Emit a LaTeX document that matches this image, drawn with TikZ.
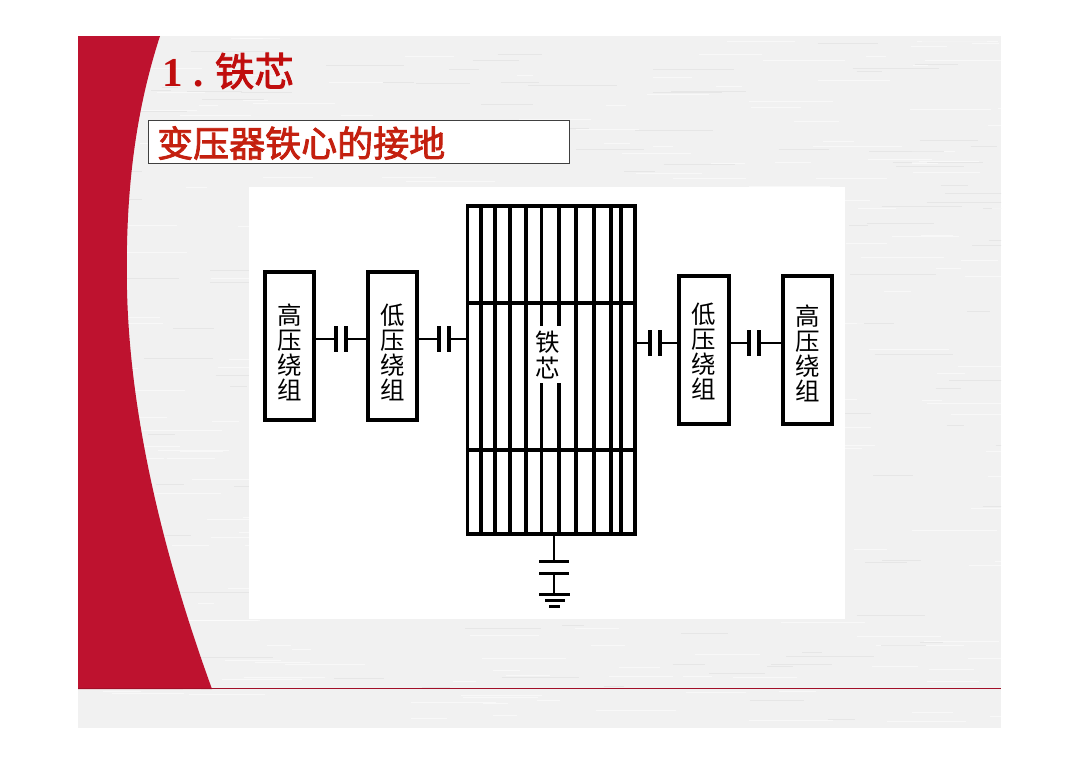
\documentclass[tikz,border=0pt]{standalone}
\usepackage{fontspec}
\newfontfamily\cjk{Noto Sans CJK SC}
\newfontfamily\cjkb[FakeBold=2.2]{Noto Sans CJK SC}
\setmainfont{Liberation Serif}
\definecolor{crim}{HTML}{BE122F}
\definecolor{titlered}{HTML}{C00D0D}
\definecolor{subred}{HTML}{C4200F}
\definecolor{bgg}{HTML}{F1F1F1}
\tikzset{
 wire/.style={line width=2.2pt,black},
 grid line/.style={line width=3.2pt,black},
 coil/.style={draw=black,line width=4pt,fill=white,minimum width=49.5pt,minimum height=148pt,inner sep=0pt},
 coiltext/.style={font=\cjk\fontsize{24.5}{25}\selectfont,align=center,black,inner sep=0pt},
 plate/.style={fill=black,inner sep=0pt,minimum width=4pt,minimum height=25.5pt},
 gplate/.style={fill=black,inner sep=0pt,minimum height=3.4pt},
 streak/.style={line width=1pt,opacity=.55},
}
\begin{document}
\begin{tikzpicture}[x=1pt,y=-1pt]
\useasboundingbox (0,0) rectangle (1080,764);
\fill[white] (0,0) rectangle (1080,764);
\fill[bgg] (78,36) rectangle (1001,728);
% paper texture
\begin{scope}
\clip (78,36) rectangle (1001,728);
\pgfmathsetseed{4242}
\foreach \i in {1,...,420}{
  \pgfmathsetmacro{\sx}{80+rnd*920}
  \pgfmathsetmacro{\sy}{38+rnd*688}
  \pgfmathsetmacro{\sl}{15+rnd*75}
  \pgfmathtruncatemacro{\tone}{mod(\i,3)}
  \ifnum\tone=0
    \draw[streak,color=black!13] (\sx,\sy) -- (\sx+\sl,\sy);
  \else
    \draw[streak,color=white] (\sx,\sy) -- (\sx+\sl,\sy);
  \fi
}
\end{scope}
\fill[white] (249,187) rectangle (845,619);
% red band
\fill[crim] (78,36) -- (160,36) .. controls (136,110) and (125,190) .. (127,290) .. controls (130,420) and (165,560) .. (212,689) -- (78,689) -- cycle;
\draw[crim!85!black,line width=.9pt] (78,688) -- (1001,688);
% titles
\node[anchor=west,text=titlered,inner sep=0pt,font=\fontsize{41}{41}\selectfont] (t1) at (162,71) {\textbf{1}\hspace{11pt}\textbf{.}\hspace{11pt}{\cjkb\fontsize{39.5}{40}\selectfont 铁芯}};
\node[draw=black!75,line width=.9pt,fill=white,anchor=north west,minimum width=421pt,minimum height=43pt,inner sep=0pt] (sub) at (148,120) {};
\node[anchor=west,text=subred,inner sep=0pt,font=\cjkb\fontsize{36}{36}\selectfont] (t2) at (157,143) {变压器铁心的接地};
% core
\node[draw=black,line width=3.3pt,minimum width=167.5pt,minimum height=328pt,inner sep=0pt] (core) at (551.25,370) {};
\foreach \x in {481,495,510,526,576,594,611,621}
  \draw[grid line] (\x,206) -- (\x,534);
\foreach \x in {541.5,559}{
  \draw[grid line] (\x,206) -- (\x,326);
  \draw[grid line] (\x,383) -- (\x,534);
}
\foreach \y in {303,450}
  \draw[line width=3.2pt] (core.west |- 0,\y) -- (core.east |- 0,\y);
\node[coiltext] (coretext) at (547.5,355) {铁\\[1pt]芯};
% coils
\node[coil] (a) at (289.3,346) {};
\node[coiltext] (at) at (289.3,352.5) {高\\压\\绕\\组};
\node[coil] (b) at (392.3,346) {};
\node[coiltext] (bt) at (392.3,352.5) {低\\压\\绕\\组};
\node[coil] (c) at (704.2,349.7) {};
\node[coiltext] (ct) at (704.2,351) {低\\压\\绕\\组};
\node[coil] (d) at (807.3,349.7) {};
\node[coiltext] (dt) at (807.3,353) {高\\压\\绕\\组};
% capacitors
\node[plate] (p1l) at (336,339) {};
\node[plate] (p1r) at (346,339) {};
\node[plate] (p2l) at (438.7,339) {};
\node[plate] (p2r) at (448.7,339) {};
\node[plate] (p3l) at (650,343) {};
\node[plate] (p3r) at (660,343) {};
\node[plate] (p4l) at (749,343) {};
\node[plate] (p4r) at (758.5,343) {};
\draw[wire] (a.east |- p1l) -- (p1l);
\draw[wire] (p1r) -- (b.west |- p1r);
\draw[wire] (b.east |- p2l) -- (p2l);
\draw[wire] (p2r) -- (core.west |- p2r);
\draw[wire] (core.east |- p3l) -- (p3l);
\draw[wire] (p3r) -- (c.west |- p3r);
\draw[wire] (c.east |- p4l) -- (p4l);
\draw[wire] (p4r) -- (d.west |- p4r);
% ground
\node[gplate,minimum width=29.5pt] (g1) at (554,561.7) {};
\node[gplate,minimum width=29.5pt] (g2) at (554,573.3) {};
\node[gplate,minimum width=31pt] (g3) at (554.8,594.3) {};
\node[gplate,minimum width=20pt] (g4) at (555,600.3) {};
\node[gplate,minimum width=10.5pt] (g5) at (554.7,606.3) {};
\draw[wire] (core.south -| g1) -- (g1);
\draw[wire] (g2) -- (g2 |- g3);
\end{tikzpicture}
\end{document}
